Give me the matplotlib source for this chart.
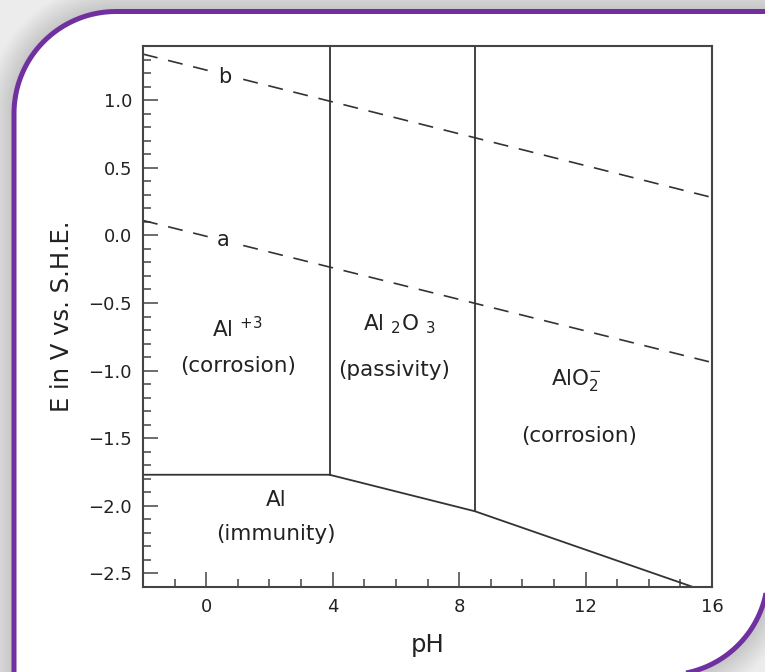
import numpy as np
import matplotlib.pyplot as plt
from matplotlib.path import Path
from matplotlib.patches import PathPatch
from matplotlib.transforms import Affine2D
from matplotlib.ticker import MultipleLocator

# Pourbaix diagram of aluminium: boundary lines (pH, E in V vs. S.H.E.)
ph_b = [-2, 16]
e_b = [1.34, 0.28]
ph_a = [-2, 16]
e_a = [0.11, -0.94]
ph_al = [-2, 3.9, 8.5, 15.4]
e_al = [-1.77, -1.77, -2.04, -2.6]
ph_v1 = [3.9, 3.9]
e_v1 = [-1.77, 1.4]
ph_v2 = [8.5, 8.5]
e_v2 = [-2.04, 1.4]

# region labels (text, pH, E at baseline)
region_text = [r'$\mathrm{Al}\ ^{+3}$', '(corrosion)',
               r'$\mathrm{Al}\ _{2}\mathrm{O}\ _{3}$', '(passivity)',
               r'$\mathrm{AlO}_{2}^{-}$', '(corrosion)',
               'Al', '(immunity)']
region_ph = [1.0, 1.0, 6.1, 5.95, 11.7, 11.8, 2.2, 2.2]
region_e = [-0.75, -1.01, -0.70, -1.04, -1.105, -1.53, -2.0, -2.25]

line_text = ['b', 'a']
line_ph = [0.6, 0.55]
line_e = [1.13, -0.08]

W, H = 765, 672
fig = plt.figure(figsize=(W / 100, H / 100), dpi=100, facecolor='#ececec')

# slide-style frame: rounded top-left / bottom-right corners
def frame_path(l, t, r, b, rad):
    th1 = np.linspace(np.pi, 1.5 * np.pi, 40)
    th2 = np.linspace(0, 0.5 * np.pi, 40)
    xs = [l] + list(l + rad + rad * np.cos(th1)) + [r] + list(r - rad + rad * np.cos(th2)) + [l]
    ys = [b] + list(t + rad + rad * np.sin(th1)) + [t] + list(b - rad + rad * np.sin(th2)) + [b]
    verts = np.column_stack([xs, H - np.array(ys)])
    return Path(verts, closed=True)

px = Affine2D().scale(1 / W, 1 / H) + fig.transFigure
fpath = frame_path(14, 11.5, 768, 675, 102)
# soft shadow
for lw in range(40, 3, -2):
    fig.add_artist(PathPatch(fpath, transform=px, facecolor='none', edgecolor='k',
                             lw=lw, alpha=0.008, zorder=0))
fig.add_artist(PathPatch(fpath, transform=px, facecolor='white', edgecolor='none', zorder=1))
fig.add_artist(PathPatch(fpath, transform=px, facecolor='none', edgecolor='#7030a0',
                         lw=3.6, zorder=2))

ax = fig.add_axes([143 / W, 1 - 587 / H, 569 / W, 541 / H])
ax.set_zorder(5)
ax.patch.set_visible(False)

lc = '#333333'
ax.plot(ph_b, e_b, color=lc, lw=1.2, dashes=(9, 6.5))
ax.plot(ph_a, e_a, color=lc, lw=1.2, dashes=(9, 6.5))
ax.plot(ph_al, e_al, color=lc, lw=1.3)
ax.plot(ph_v1, e_v1, color=lc, lw=1.3)
ax.plot(ph_v2, e_v2, color=lc, lw=1.3)

for t, x, y in zip(line_text, line_ph, line_e):
    ax.text(x, y, t, fontsize=15, color='#222222', ha='center', va='baseline',
            bbox=dict(facecolor='white', edgecolor='none', pad=6))

for t, x, y in zip(region_text, region_ph, region_e):
    ax.text(x, y, t, fontsize=15.5, color='#222222', ha='center', va='baseline')

ax.set_xlim(-2, 16)
ax.set_ylim(-2.6, 1.4)
ax.xaxis.set_major_locator(MultipleLocator(4))
ax.xaxis.set_minor_locator(MultipleLocator(1))
ax.yaxis.set_major_locator(MultipleLocator(0.5))
ax.yaxis.set_minor_locator(MultipleLocator(0.1))
ax.tick_params(which='both', direction='in', top=False, right=False,
               color='#444444', width=1.1, labelsize=13, labelcolor='#222222', pad=8)
ax.tick_params(which='major', length=11)
ax.tick_params(which='minor', length=6)
for s in ax.spines.values():
    s.set_color('#444444')
    s.set_linewidth(1.5)

ax.set_xlabel('pH', fontsize=17.5, color='#222222')
ax.set_ylabel('E in V vs. S.H.E.', fontsize=17.5, color='#222222')
ax.xaxis.set_label_coords(0.5, -0.085)
ax.yaxis.set_label_coords(-0.122, 0.5)

fig.savefig('out.png', dpi=100, facecolor=fig.get_facecolor())
